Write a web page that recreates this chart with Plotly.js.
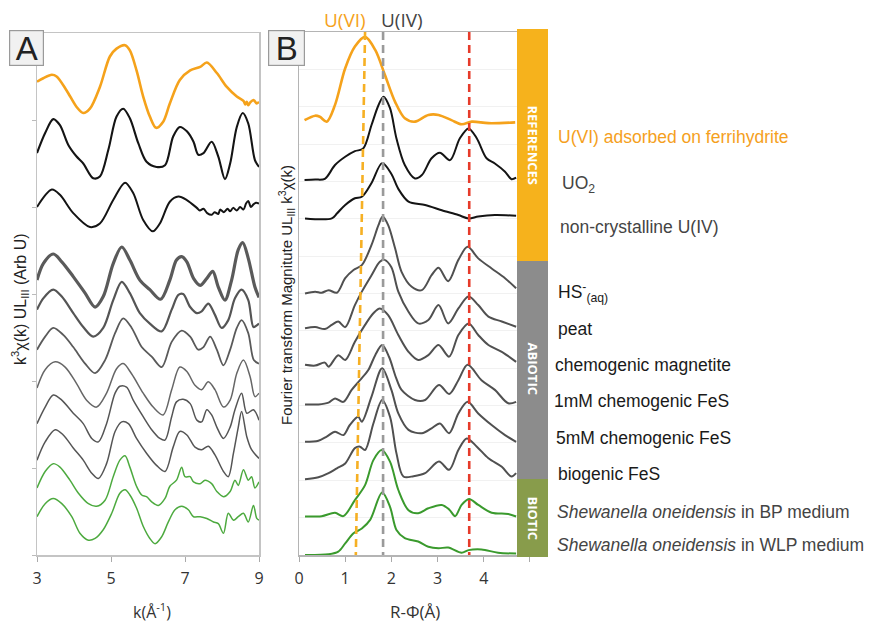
<!DOCTYPE html>
<html><head><meta charset="utf-8">
<script src="https://cdn.plot.ly/plotly-3.0.1.min.js"></script>
<style>html,body{margin:0;padding:0;background:#fff}#c{width:872px;height:623px}</style>
</head><body><div id="c"></div>
<script>
// ---------- Panel A : k^3 chi(k), stacked (arbitrary units) ----------
const aUVI_k = [3.0,3.17,3.40,3.53,3.80,4.07,4.25,4.43,4.70,4.97,5.15,5.38,5.51,5.69,5.87,6.05,6.22,6.41,6.59,6.86,7.14,7.41,7.59,7.86,8.13,8.40,8.58,8.63,8.67,8.71,8.76,8.85,8.94,9.0];
const aUVI_y = [5.44,5.48,5.52,5.50,5.34,5.15,5.08,5.13,5.38,5.73,5.82,5.86,5.80,5.57,5.27,5.04,4.91,4.98,5.19,5.46,5.57,5.61,5.66,5.54,5.38,5.27,5.22,5.18,5.21,5.17,5.20,5.23,5.19,5.21];
const aUO2_k = [3.0,3.22,3.44,3.62,3.85,4.07,4.25,4.52,4.70,4.93,5.15,5.33,5.51,5.74,5.96,6.23,6.46,6.68,6.86,7.05,7.23,7.36,7.50,7.72,7.90,8.08,8.22,8.40,8.56,8.71,8.89,9.0];
const aUO2_y = [4.62,4.85,5.01,4.94,4.71,4.58,4.50,4.33,4.35,4.66,5.04,5.13,5.02,4.73,4.52,4.46,4.48,4.81,4.92,4.87,4.75,4.60,4.62,4.75,4.58,4.32,4.50,4.92,5.08,4.96,4.54,4.46];
const aNC_k = [3.0,3.40,3.62,3.98,4.43,4.70,5.06,5.38,5.60,5.87,6.13,6.32,6.59,6.82,7.05,7.32,7.40,7.50,7.60,7.72,7.80,7.90,7.95,8.05,8.15,8.22,8.30,8.40,8.49,8.58,8.65,8.71,8.78,8.85,8.92,9.0];
const aNC_y = [4.00,4.20,4.14,3.93,3.77,3.81,4.08,4.28,4.16,3.85,3.72,3.81,4.06,4.12,4.08,3.99,3.96,3.98,3.93,3.91,3.94,3.92,3.97,3.94,3.98,3.95,3.99,3.96,4.00,3.97,4.04,4.07,4.00,4.03,4.05,4.04];
const aHS_k = [3.0,3.17,3.44,3.67,3.98,4.30,4.57,4.79,5.06,5.29,5.51,5.78,6.05,6.34,6.59,6.77,6.91,7.05,7.23,7.41,7.59,7.75,7.90,8.08,8.26,8.44,8.56,8.71,8.89,9.0];
const aHS_y = [3.16,3.35,3.46,3.37,3.20,3.01,2.85,2.97,3.35,3.54,3.39,3.16,3.05,2.94,3.16,3.39,3.43,3.37,3.18,3.10,3.18,3.26,3.08,2.93,3.16,3.51,3.59,3.41,3.08,2.96];
const aPeat_k = [3.0,3.17,3.44,3.67,3.98,4.25,4.52,4.79,5.06,5.29,5.51,5.78,6.05,6.37,6.64,6.82,6.95,7.14,7.32,7.45,7.63,7.81,7.99,8.17,8.35,8.53,8.71,8.85,8.94,9.0];
const aPeat_y = [2.82,2.95,3.05,2.97,2.78,2.62,2.51,2.61,2.93,3.14,3.01,2.78,2.66,2.57,2.82,2.99,3.00,2.85,2.78,2.80,2.89,2.76,2.61,2.70,2.95,3.05,2.93,2.62,2.64,2.66];
const aMag_k = [3.0,3.22,3.44,3.71,3.98,4.30,4.57,4.84,5.11,5.33,5.56,5.83,6.10,6.37,6.64,6.91,7.14,7.36,7.50,7.68,7.86,8.04,8.22,8.40,8.53,8.71,8.86,9.0];
const aMag_y = [2.36,2.51,2.61,2.53,2.39,2.20,2.09,2.24,2.55,2.72,2.61,2.39,2.28,2.16,2.45,2.58,2.51,2.36,2.39,2.51,2.36,2.18,2.36,2.61,2.70,2.55,2.24,2.20];
const a1mM_k = [3.0,3.22,3.49,3.76,4.07,4.34,4.61,4.88,5.15,5.33,5.56,5.87,6.14,6.41,6.64,6.86,7.05,7.27,7.45,7.63,7.81,8.04,8.22,8.40,8.58,8.76,8.89,9.0];
const a1mM_y = [1.92,2.13,2.22,2.16,1.97,1.78,1.70,1.86,2.14,2.20,2.08,1.86,1.70,1.61,1.90,2.16,2.11,1.95,1.90,1.99,1.90,1.70,1.78,2.09,2.24,2.05,1.82,1.86];
const a5mM_k = [3.0,3.22,3.44,3.67,3.98,4.25,4.48,4.66,4.88,5.11,5.24,5.42,5.60,5.87,6.10,6.32,6.46,6.64,6.77,6.95,7.14,7.32,7.45,7.59,7.72,7.86,8.04,8.22,8.35,8.53,8.67,8.85,9.0];
const a5mM_y = [1.51,1.70,1.84,1.78,1.63,1.51,1.34,1.30,1.51,1.86,1.94,1.93,1.78,1.59,1.44,1.34,1.32,1.59,1.76,1.79,1.74,1.55,1.53,1.67,1.61,1.47,1.34,1.47,1.67,1.86,1.63,1.67,1.55];
const aBio_k = [3.0,3.22,3.49,3.71,3.98,4.25,4.48,4.66,4.88,5.11,5.29,5.47,5.69,5.96,6.23,6.46,6.68,6.86,7.05,7.27,7.45,7.63,7.81,8.04,8.17,8.31,8.44,8.53,8.67,8.80,9.0];
const aBio_y = [1.09,1.30,1.44,1.38,1.23,1.09,0.94,0.88,1.05,1.42,1.53,1.51,1.34,1.17,1.03,0.96,1.24,1.42,1.38,1.24,1.21,1.25,1.15,0.96,0.90,1.17,1.47,1.65,1.36,1.21,1.11];
const aBP_k = [3.0,3.22,3.44,3.62,3.89,4.12,4.39,4.61,4.84,5.06,5.24,5.38,5.51,5.69,5.83,5.96,6.10,6.28,6.46,6.59,6.77,6.91,7.0,7.14,7.23,7.41,7.54,7.72,7.86,8.04,8.22,8.35,8.44,8.58,8.71,8.80,8.89,9.0];
const aBP_y = [0.77,0.96,1.05,1.01,0.86,0.71,0.59,0.56,0.63,0.90,1.09,1.14,1.01,0.79,0.69,0.67,0.61,0.57,0.65,0.79,0.86,1.01,0.90,0.90,0.84,0.82,0.86,0.82,0.73,0.67,0.73,0.86,0.80,0.98,0.86,0.90,0.77,0.84];
const aWLP_k = [3.0,3.22,3.44,3.67,3.94,4.16,4.39,4.57,4.79,5.02,5.24,5.38,5.51,5.69,5.87,6.05,6.19,6.37,6.55,6.73,6.91,7.09,7.23,7.41,7.59,7.77,7.90,8.04,8.17,8.31,8.44,8.58,8.71,8.85,8.94,9.0];
const aWLP_y = [0.44,0.59,0.65,0.59,0.44,0.25,0.17,0.19,0.29,0.48,0.71,0.75,0.69,0.54,0.33,0.19,0.13,0.21,0.38,0.52,0.56,0.52,0.44,0.44,0.42,0.38,0.36,0.25,0.48,0.40,0.44,0.48,0.38,0.57,0.42,0.40];

// ---------- Panel B : Fourier transform magnitude, stacked ----------
const bUVI_r = [0.12,0.35,0.45,0.60,0.78,1.0,1.21,1.43,1.65,1.86,2.08,2.29,2.51,2.80,3.02,3.30,3.52,3.74,4.10,4.68];
const bUVI_y = [11.64,11.76,11.73,11.60,12.05,13.03,13.61,13.87,13.52,12.85,12.13,11.69,11.60,11.78,11.78,11.64,11.53,11.60,11.56,11.58];
const bUO2_r = [0.12,0.35,0.56,0.78,1.0,1.21,1.39,1.57,1.72,1.83,1.97,2.11,2.29,2.51,2.66,2.87,3.05,3.27,3.48,3.67,3.85,4.06,4.24,4.46,4.60,4.70];
const bUO2_y = [10.04,10.05,10.07,10.44,10.66,10.81,10.88,11.51,12.04,12.27,11.96,11.15,10.44,10.08,10.17,10.62,10.77,10.57,11.15,11.42,11.15,10.62,10.48,10.26,10.06,10.10];
const bNC_r = [0.13,0.71,0.82,1.0,1.21,1.36,1.57,1.80,2.0,2.15,2.37,2.73,3.09,3.45,3.67,3.88,4.24,4.70];
const bNC_y = [9.01,9.01,9.14,9.37,9.55,9.59,9.96,10.49,10.20,9.80,9.46,9.37,9.23,9.10,9.01,9.06,9.10,9.08];
const bHS_r = [0.13,0.35,0.49,0.64,0.82,1.0,1.18,1.36,1.57,1.72,1.81,1.93,2.08,2.22,2.44,2.66,2.87,3.02,3.23,3.45,3.65,3.88,4.17,4.46,4.70];
const bHS_y = [7.0,7.05,7.02,7.09,7.02,7.41,7.63,7.76,8.30,8.83,9.06,8.83,8.21,7.58,7.18,7.09,7.49,7.69,7.33,7.90,8.25,7.94,7.67,7.41,7.14];
const bPeat_r = [0.13,0.35,0.56,0.71,0.85,1.0,1.21,1.36,1.57,1.75,1.85,2.0,2.15,2.37,2.58,2.80,3.02,3.23,3.45,3.67,3.88,4.10,4.39,4.70];
const bPeat_y = [6.07,6.10,6.05,6.16,6.25,6.10,6.69,7.05,7.49,7.85,7.90,7.70,7.05,6.51,6.20,6.29,6.69,6.20,6.60,6.92,6.69,6.38,6.25,6.11];
const bMag_r = [0.13,0.35,0.56,0.64,0.85,1.0,1.21,1.43,1.61,1.75,1.93,2.15,2.37,2.58,2.80,3.02,3.25,3.45,3.67,3.88,4.10,4.39,4.70];
const bMag_y = [5.09,5.07,5.15,5.04,5.35,5.22,5.71,6.16,6.47,6.60,6.42,5.89,5.44,5.22,5.35,5.62,5.31,5.89,6.20,5.89,5.62,5.44,5.17];
const b1mM_r = [0.13,0.42,0.64,0.78,0.96,1.14,1.32,1.50,1.65,1.80,1.95,2.10,2.22,2.51,2.73,3.03,3.25,3.45,3.65,3.95,4.24,4.53,4.70];
const b1mM_y = [4.03,4.03,4.08,4.19,4.10,4.42,4.68,4.95,5.35,5.62,5.30,4.75,4.42,4.15,4.15,4.55,4.31,4.68,5.09,4.68,4.42,4.06,4.10];
const b5mM_r = [0.13,0.42,0.60,0.78,0.96,1.10,1.28,1.36,1.57,1.80,2.0,2.15,2.37,2.66,2.87,3.05,3.25,3.45,3.65,3.88,4.17,4.46,4.70];
const b5mM_y = [3.03,3.06,3.17,3.30,3.21,3.48,3.70,3.57,4.24,5.0,4.42,3.79,3.35,3.26,3.39,3.52,3.26,3.79,4.10,3.79,3.48,3.21,3.03];
const bBio_r = [0.13,0.42,0.64,0.82,1.0,1.21,1.32,1.43,1.61,1.80,1.97,2.11,2.26,2.48,2.73,3.03,3.25,3.45,3.63,3.85,4.10,4.39,4.60,4.70];
const bBio_y = [2.03,2.08,2.19,2.32,2.45,2.86,2.90,2.81,3.52,4.15,3.70,2.72,2.10,2.11,2.19,2.50,2.28,2.81,3.12,2.90,2.59,2.36,2.10,2.19];
const bBP_r = [0.13,0.49,0.78,0.96,1.21,1.43,1.61,1.79,1.97,2.15,2.37,2.58,2.80,3.09,3.25,3.38,3.52,3.68,3.88,4.17,4.53,4.70];
const bBP_y = [1.03,1.04,1.13,1.04,1.47,1.87,2.54,2.81,2.50,1.74,1.20,1.12,1.25,1.34,1.22,1.04,1.34,1.50,1.34,1.13,1.10,1.03];
const bWLP_r = [0.13,0.64,0.85,1.0,1.18,1.36,1.54,1.80,1.97,2.11,2.29,2.58,2.80,3.02,3.23,3.52,3.67,3.95,4.31,4.70];
const bWLP_y = [0.0,0.02,0.09,0.31,0.58,0.71,0.94,1.67,1.29,0.67,0.45,0.36,0.22,0.18,0.20,0.06,0.13,0.15,0.06,0.04];

// reference lines (R positions) in panel B
const refUVI_r = [1.43, 1.23];
const refUVI_y = [14, 0];
const refUIV_r = [1.82, 1.82];
const refUIV_y = [14, 0];
const refRed_r = [3.685, 3.685];
const refRed_y = [14, 0];

// sample labels (panel B, right side)
const sampleLabels = ["U(VI) adsorbed on ferrihydrite","UO<sub>2</sub>","non-crystalline U(IV)","HS<sup>-</sup><sub>(aq)</sub>","peat","chemogenic magnetite","1mM chemogenic FeS","5mM chemogenic FeS","biogenic FeS","<i>Shewanella oneidensis</i> in BP medium","<i>Shewanella oneidensis</i> in WLP medium"];
const groupLabels = ["REFERENCES","ABIOTIC","BIOTIC"];
const kTicks = [3,5,7,9];
const rTicks = [0,1,2,3,4,5];
const rTickText = ["0","1","2","3","4",""];

// ---------- styling ----------
const W = 872, H = 623;
const X = p => p / W, Y = p => 1 - p / H;
const ORANGE = '#F5A21B', BLACK = '#141414', GRAY = '#505050', GREEN_A = '#4DAA3F', GREEN_B = '#3A9A2D';

function tr(x, y, color, width, ax) {
  return {x: x, y: y, type: 'scatter', mode: 'lines', xaxis: ax ? 'x2' : 'x', yaxis: ax ? 'y2' : 'y',
    line: {color: color, width: width, shape: 'spline', smoothing: 0.9}, hoverinfo: 'skip'};
}
const traces = [
  tr(aUVI_k, aUVI_y, ORANGE, 2.6, 0),
  tr(aUO2_k, aUO2_y, BLACK, 2.1, 0),
  tr(aNC_k, aNC_y, BLACK, 2.0, 0),
  tr(aHS_k, aHS_y, '#5a5a5a', 3.2, 0),
  tr(aPeat_k, aPeat_y, '#555', 2.2, 0),
  tr(aMag_k, aMag_y, '#5a5a5a', 1.8, 0),
  tr(a1mM_k, a1mM_y, '#666', 1.5, 0),
  tr(a5mM_k, a5mM_y, '#555', 1.5, 0),
  tr(aBio_k, aBio_y, '#555', 1.5, 0),
  tr(aBP_k, aBP_y, GREEN_A, 1.5, 0),
  tr(aWLP_k, aWLP_y, GREEN_A, 1.5, 0),
  tr(bUVI_r, bUVI_y, ORANGE, 2.6, 1),
  tr(bUO2_r, bUO2_y, BLACK, 2.0, 1),
  tr(bNC_r, bNC_y, BLACK, 2.0, 1),
  tr(bHS_r, bHS_y, GRAY, 2.0, 1),
  tr(bPeat_r, bPeat_y, GRAY, 2.0, 1),
  tr(bMag_r, bMag_y, GRAY, 2.0, 1),
  tr(b1mM_r, b1mM_y, GRAY, 2.0, 1),
  tr(b5mM_r, b5mM_y, GRAY, 2.0, 1),
  tr(bBio_r, bBio_y, GRAY, 2.0, 1),
  tr(bBP_r, bBP_y, GREEN_B, 2.0, 1),
  tr(bWLP_r, bWLP_y, GREEN_B, 2.0, 1)
];
function ref(x, y, color) {
  return {x: x, y: y, type: 'scatter', mode: 'lines', xaxis: 'x2', yaxis: 'y2',
    line: {color: color, width: 2.6, dash: '8px,5px'}, hoverinfo: 'skip'};
}
traces.push(ref(refUVI_r, refUVI_y, '#F6B024'));
traces.push(ref(refUIV_r, refUIV_y, '#9a9a9a'));
traces.push(ref(refRed_r, refRed_y, '#E63B2A'));

const labelY = [137, 184, 227, 292, 329, 365, 401, 438, 474, 512, 545];
const labelX = [556, 560, 558, 556, 556, 553, 552, 554, 556, 555, 555];
const labelC = ['#F5A01D', '#444', '#444', '#1a1a1a', '#1a1a1a', '#1a1a1a', '#1a1a1a', '#1a1a1a', '#1a1a1a', '#444', '#444'];
const ann = [];
sampleLabels.forEach((t, i) => ann.push({text: t, xref: 'paper', yref: 'paper', x: X(labelX[i]), y: Y(labelY[i]),
  xanchor: 'left', yanchor: 'middle', showarrow: false, font: {family: 'Liberation Sans, Arial', size: 17.5, color: labelC[i]}}));
const grpY = [145, 368, 518];
groupLabels.forEach((t, i) => ann.push({text: '<b>' + t + '</b>', xref: 'paper', yref: 'paper', x: X(532.5), y: Y(grpY[i]),
  xanchor: 'center', yanchor: 'middle', textangle: 90, showarrow: false, font: {family: 'Open Sans', size: 13, color: '#fff'}}));
ann.push({text: 'A', xref: 'paper', yref: 'paper', x: X(26.5), y: Y(48), xanchor: 'center', yanchor: 'middle', showarrow: false,
  font: {family: 'Liberation Sans, Arial', size: 33, color: '#222'}, bgcolor: '#f1f1f1', bordercolor: '#9a9a9a', borderwidth: 1.2, width: 31, height: 32, borderpad: 1});
ann.push({text: 'B', xref: 'paper', yref: 'paper', x: X(286.5), y: Y(48), xanchor: 'center', yanchor: 'middle', showarrow: false,
  font: {family: 'Liberation Sans, Arial', size: 33, color: '#222'}, bgcolor: '#f1f1f1', bordercolor: '#9a9a9a', borderwidth: 1.2, width: 33, height: 32, borderpad: 1});
ann.push({text: 'U(VI)', xref: 'paper', yref: 'paper', x: X(345), y: Y(20), xanchor: 'center', yanchor: 'middle', showarrow: false,
  font: {family: 'Open Sans', size: 19, color: '#F5A21B'}});
ann.push({text: 'U(IV)', xref: 'paper', yref: 'paper', x: X(402), y: Y(20), xanchor: 'center', yanchor: 'middle', showarrow: false,
  font: {family: 'Open Sans', size: 19, color: '#444'}});
ann.push({text: 'k<sup>3</sup>χ(k) UL<sub>III</sub> (Arb U)', xref: 'paper', yref: 'paper', x: X(20), y: Y(299), xanchor: 'center', yanchor: 'middle',
  textangle: -90, showarrow: false, font: {family: 'Liberation Sans, Arial', size: 16, color: '#222'}});
ann.push({text: 'Fourier transform Magnitute UL<sub>III</sub> k<sup>3</sup>χ(k)', xref: 'paper', yref: 'paper', x: X(287), y: Y(295), xanchor: 'center', yanchor: 'middle',
  textangle: -90, showarrow: false, font: {family: 'Liberation Sans, Arial', size: 15, color: '#222'}});
ann.push({text: 'k(Å<sup>-1</sup>)', xref: 'paper', yref: 'paper', x: X(152), y: Y(611), xanchor: 'center', yanchor: 'middle', showarrow: false,
  font: {family: 'Open Sans', size: 16, color: '#333'}});
ann.push({text: 'R-Φ(Å)', xref: 'paper', yref: 'paper', x: X(415), y: Y(611), xanchor: 'center', yanchor: 'middle', showarrow: false,
  font: {family: 'Open Sans', size: 17, color: '#333'}});

const shapes = [
  {type: 'rect', xref: 'paper', yref: 'paper', x0: X(517), x1: X(548), y0: Y(261), y1: Y(29), fillcolor: '#F6B21C', line: {width: 0}, layer: 'above'},
  {type: 'rect', xref: 'paper', yref: 'paper', x0: X(517), x1: X(548), y0: Y(479), y1: Y(261), fillcolor: '#8C8C8C', line: {width: 0}, layer: 'above'},
  {type: 'rect', xref: 'paper', yref: 'paper', x0: X(517), x1: X(548), y0: Y(557), y1: Y(479), fillcolor: '#889C4B', line: {width: 0}, layer: 'above'}
];

const tickFont = {family: 'Open Sans', size: 16, color: '#333'};
const layout = {
  width: W, height: H, margin: {l: 0, r: 0, t: 0, b: 0}, paper_bgcolor: '#fff', plot_bgcolor: '#fff', showlegend: false,
  xaxis: {domain: [X(37), X(259)], range: [3, 9], tickvals: kTicks, ticks: 'outside', ticklen: 5, tickcolor: '#aaa',
    showline: true, linecolor: '#c4c4c4', linewidth: 1.5, mirror: true, showgrid: false, zeroline: false, tickfont: tickFont,
    ticklabelstandoff: 3, anchor: 'y'},
  yaxis: {domain: [Y(555), Y(33)], range: [0, 6], tickvals: [0, 1, 2, 3, 4, 5], showticklabels: false, ticks: 'outside', ticklen: 4,
    tickcolor: '#bbb', showline: true, linecolor: '#c4c4c4', linewidth: 1.5, mirror: true, showgrid: false, zeroline: false, anchor: 'x'},
  xaxis2: {domain: [X(299), X(548)], range: [0, 5.39], tickvals: rTicks, ticktext: rTickText, ticks: 'outside', ticklen: 5, tickcolor: '#aaa',
    showline: true, linecolor: '#b4b4b4', linewidth: 1.5, mirror: true, showgrid: false, zeroline: false, tickfont: tickFont,
    ticklabelstandoff: 3, anchor: 'y2'},
  yaxis2: {domain: [Y(555), Y(32)], range: [0, 14], dtick: 1, showgrid: true, gridcolor: '#f1f1f1', gridwidth: 1, showticklabels: false,
    ticks: '', showline: true, linecolor: '#b4b4b4', linewidth: 1.5, zeroline: false, anchor: 'x2'},
  annotations: ann, shapes: shapes
};
Plotly.newPlot('c', traces, layout, {staticPlot: true, displayModeBar: false});
</script></body></html>
